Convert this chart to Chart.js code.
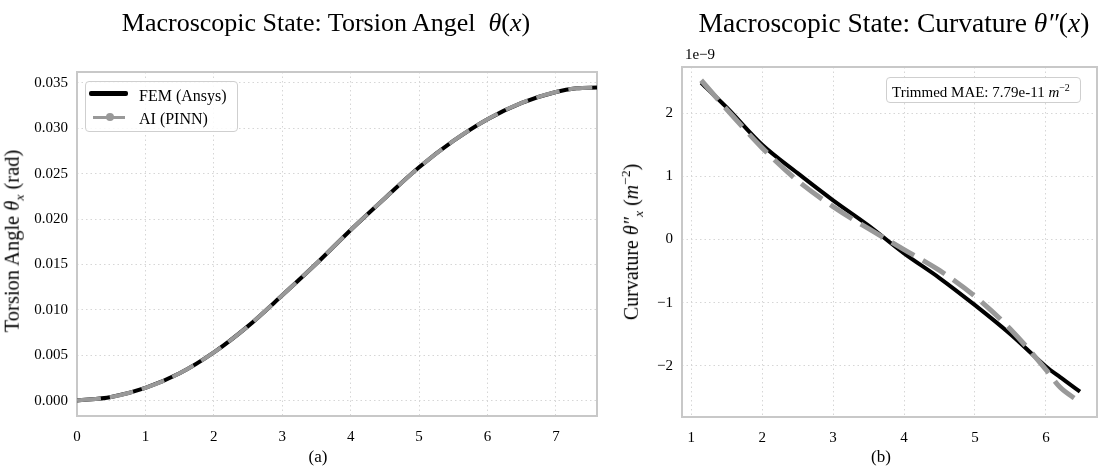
<!DOCTYPE html>
<html>
<head>
<meta charset="utf-8">
<script src="https://cdn.jsdelivr.net/npm/chart.js@4.4.1/dist/chart.umd.min.js"></script>
<style>
  body { margin: 0; background: #fff; font-family: "Liberation Serif", serif; }
  #wrap { position: relative; width: 1099px; height: 468px; overflow: hidden; }
  canvas { position: absolute; top: 0; }
  .t { position: absolute; white-space: nowrap; color: #000; line-height: 1; }
  .c { transform: translate(-50%, -50%); }
  .rot { transform: translate(-50%, -50%) rotate(-90deg); }
  i { font-style: italic; }
  .box { position: absolute; border: 1.5px solid #cfcfcf; border-radius: 4px; background: rgba(255,255,255,0.85); }
</style>
</head>
<body>
<div id="wrap">
  <canvas id="left" width="610" height="468" style="left:0"></canvas>
  <canvas id="right" width="489" height="468" style="left:610px"></canvas>

  <!-- titles -->
  <div class="t c" style="left:326px; top:22.5px; font-size:26px">Macroscopic State: Torsion Angel&nbsp; <i>θ</i>(<i>x</i>)</div>
  <div class="t c" style="left:894px; top:22.5px; font-size:27.5px">Macroscopic State: Curvature <i>θ″</i>(<i>x</i>)</div>

  <!-- axis labels -->
  <div class="t rot" style="left:14px; top:241px; font-size:20.5px">Torsion Angle <i>θ<sub style="font-size:13.5px">x</sub></i> (rad)</div>
  <div class="t rot" style="left:632px; top:242px; font-size:20px">Curvature <i>θ″<sub style="font-size:13.5px">x</sub></i> (<i>m</i><sup style="font-size:13.5px">−2</sup>)</div>
  <div class="t c" style="left:318px; top:456px; font-size:17px">(a)</div>
  <div class="t c" style="left:881px; top:456px; font-size:17px">(b)</div>
  <div class="t c" style="left:700px; top:54px; font-size:15px">1e−9</div>

  <!-- legend (left panel) -->
  <div class="box" style="left:85px; top:81px; width:151px; height:49px"></div>
  <div style="position:absolute; left:89px; top:91px; width:39px; height:5px; background:#000; border-radius:2px"></div>
  <div class="t" style="left:139px; top:88px; font-size:16px">FEM (Ansys)</div>
  <div style="position:absolute; left:93px; top:115.5px; width:32px; height:3.5px; background:#999"></div>
  <div style="position:absolute; left:106px; top:113px; width:8px; height:8px; border-radius:50%; background:#999"></div>
  <div class="t" style="left:139px; top:111px; font-size:16px">AI (PINN)</div>

  <!-- MAE box (right panel) -->
  <div class="box" style="left:886px; top:77px; width:193px; height:24px"></div>
  <div class="t" style="left:892px; top:83px; font-size:15px">Trimmed MAE: 7.79e-11 <i>m</i><sup style="font-size:10px">−2</sup></div>
</div>

<script>
// Torsion angle theta(x), rad
const thetaX    = [0, 0.5, 1, 1.5, 2, 2.5, 3, 3.5, 4, 4.5, 5, 5.5, 6, 6.5, 7, 7.3, 7.6];
const thetaFEM  = [0, 0.0004, 0.0014, 0.0030, 0.0053, 0.0082, 0.0116, 0.0151, 0.0188, 0.0223, 0.0257, 0.0286, 0.0310, 0.0328, 0.0340, 0.0344, 0.0345];
const thetaPINN = [0, 0.0004, 0.0014, 0.0030, 0.0053, 0.0082, 0.0116, 0.0151, 0.0188, 0.0223, 0.0257, 0.0286, 0.0310, 0.0328, 0.0340, 0.0344, 0.0345];

// Curvature theta''(x), in units of 1e-9 m^-2
const curvXFEM  = [1.14, 1.5, 2, 2.5, 3, 3.5, 4, 4.5, 5, 5.5, 6, 6.2, 6.48];
const curvFEM   = [2.48, 2.09, 1.50, 1.05, 0.62, 0.22, -0.22, -0.61, -1.04, -1.50, -2.01, -2.18, -2.41];
const curvXPINN = [1.14, 1.5, 2, 2.5, 3, 3.5, 4, 4.5, 5, 5.5, 6, 6.2, 6.45];
const curvPINN  = [2.52, 2.06, 1.45, 0.93, 0.52, 0.17, -0.16, -0.49, -0.90, -1.42, -2.06, -2.34, -2.55];

// tick values
const leftXTicks  = [0, 1, 2, 3, 4, 5, 6, 7];
const leftYTicks  = [0, 0.005, 0.010, 0.015, 0.020, 0.025, 0.030, 0.035];
const rightXTicks = [1, 2, 3, 4, 5, 6];
const rightYTicks = [-2, -1, 0, 1, 2];

const FONT = "'Liberation Serif', serif";

function pts(xs, ys) {
  return xs.map((x, i) => ({ x: x, y: ys[i] }));
}

// grey frame round the plot area
const frame = {
  id: "frame",
  beforeDatasetsDraw(chart) {
    const a = chart.chartArea, c = chart.ctx;
    c.save();
    c.strokeStyle = "#c8c8c8";
    c.lineWidth = 2;
    c.strokeRect(a.left, a.top, a.right - a.left, a.bottom - a.top);
    c.restore();
  }
};

function axis(min, max, ticks, fmt, fitSize, horizontal) {
  return {
    type: "linear",
    min: min,
    max: max,
    afterBuildTicks: s => { s.ticks = ticks.map(v => ({ value: v })); },
    afterFit: s => { if (horizontal) s.height = fitSize; else s.width = fitSize; },
    grid: { color: "#d6d6d6", lineWidth: 1, drawTicks: false },
    border: { display: false, dash: [1.5, 3] },
    ticks: {
      color: "#000",
      font: { family: FONT, size: 15 },
      padding: horizontal ? 12 : 9,
      callback: fmt
    }
  };
}

function minus(v) {
  return v < 0 ? "\u2212" + Math.abs(v) : String(v);
}

new Chart(document.getElementById("left"), {
  type: "line",
  data: {
    datasets: [
      {
        label: "FEM (Ansys)",
        data: pts(thetaX, thetaFEM),
        borderColor: "#000",
        borderWidth: 4,
        pointRadius: 0,
        cubicInterpolationMode: "monotone",
        order: 2
      },
      {
        label: "AI (PINN)",
        data: pts(thetaX, thetaPINN),
        borderColor: "#999",
        borderWidth: 4,
        borderDash: [24, 9],
        pointRadius: 0,
        cubicInterpolationMode: "monotone",
        order: 1
      }
    ]
  },
  options: {
    responsive: false,
    animation: false,
    devicePixelRatio: 1,
    layout: { padding: { top: 72, right: 13, left: 0, bottom: 0 } },
    plugins: { legend: { display: false }, tooltip: { enabled: false } },
    scales: {
      x: axis(0, 7.6, leftXTicks, v => String(v), 52, true),
      y: axis(-0.0017, 0.0362, leftYTicks, v => v.toFixed(3), 77, false)
    }
  },
  plugins: [frame]
});

new Chart(document.getElementById("right"), {
  type: "line",
  data: {
    datasets: [
      {
        label: "FEM",
        data: pts(curvXFEM, curvFEM),
        borderColor: "#000",
        borderWidth: 4,
        pointRadius: 0,
        cubicInterpolationMode: "monotone",
        order: 2
      },
      {
        label: "PINN",
        data: pts(curvXPINN, curvPINN),
        borderColor: "#999",
        borderWidth: 5,
        borderDash: [26, 10],
        pointRadius: 0,
        cubicInterpolationMode: "monotone",
        order: 1
      }
    ]
  },
  options: {
    responsive: false,
    animation: false,
    devicePixelRatio: 1,
    layout: { padding: { top: 67, right: 2, left: 0, bottom: 0 } },
    plugins: { legend: { display: false }, tooltip: { enabled: false } },
    scales: {
      x: axis(0.87, 6.72, rightXTicks, v => String(v), 51, true),
      y: axis(-2.81, 2.73, rightYTicks, minus, 72, false)
    }
  },
  plugins: [frame]
});
</script>
</body>
</html>
